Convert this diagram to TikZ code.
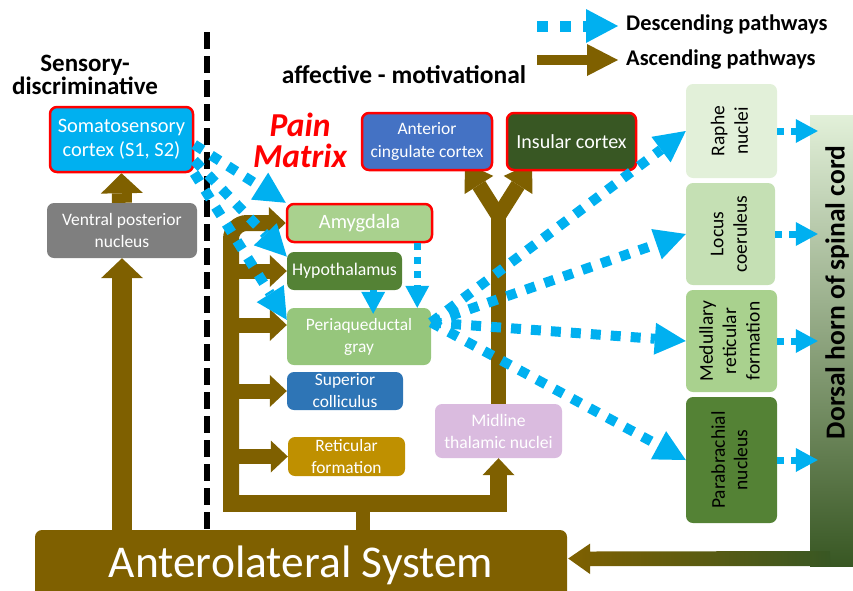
\documentclass[tikz,border=0pt]{standalone}
\usepackage{fontspec}
\setmainfont{Carlito}
\usepackage{graphicx}
\usetikzlibrary{arrows.meta,calc,backgrounds}
\definecolor{cyanA}{HTML}{00B0F0}
\definecolor{brownA}{HTML}{7F6000}
\definecolor{accC}{HTML}{4472C4}
\definecolor{insC}{HTML}{385723}
\definecolor{amyC}{HTML}{A9D18E}
\definecolor{hypC}{HTML}{548235}
\definecolor{pagC}{HTML}{96C67C}
\definecolor{supC}{HTML}{2E75B6}
\definecolor{retC}{HTML}{BF9000}
\definecolor{mtnC}{HTML}{DABBDF}
\definecolor{vpnC}{HTML}{7F7F7F}
\definecolor{raC}{HTML}{E2F0D9}
\definecolor{lcC}{HTML}{C5E0B4}
\definecolor{dhTop}{HTML}{E2F0D9}
\definecolor{dhMid}{HTML}{A9D18E}
\definecolor{dhBot}{HTML}{385723}
\newcommand\fsz[2]{\fontsize{#1}{#2}\selectfont}
\newcommand\rot[1]{\rotatebox{90}{\begin{tabular}{@{}c@{}}#1\end{tabular}}}
\begin{document}
\begin{tikzpicture}[x=1pt,y=-1pt,
  box/.style={rounded corners=7pt, align=center, text=white, inner sep=1pt},
  redb/.style={draw=red, line width=2.5pt},
  desc/.style={draw=cyanA, line width=10pt, dash pattern=on 10pt off 10pt, -{Triangle[width=32pt,length=31pt,line width=0pt]}},
  descs/.style={draw=cyanA, line width=7pt, dash pattern=on 7pt off 7pt, -{Triangle[width=24pt,length=22pt,line width=0pt]}},
  legd/.style={draw=cyanA, line width=11pt, dash pattern=on 11pt off 12pt, -{Triangle[width=34pt,length=32pt,line width=0pt]}},
  lega/.style={draw=brownA, line width=10pt, -{Triangle[width=32pt,length=31pt,line width=0pt]}},
  asc/.style={draw=brownA, line width=15pt, -{Triangle[width=32pt,length=17pt,line width=0pt]}},
  ascy/.style={draw=brownA, line width=15pt, -{Triangle[width=34pt,length=26pt,line width=0pt]}},
  ascw/.style={draw=brownA, line width=20pt, -{Triangle[width=42pt,length=20pt,line width=0pt]}},
  plainb/.style={draw=brownA, line width=15pt},
  ttl/.style={font=\bfseries\fsz{25}{23.5}, align=center, inner sep=0pt}
]
\useasboundingbox (0,0) rectangle (853,590);
\clip (0,0) rectangle (853,590);

% ---------- titles and legend
\node[ttl] (sd) at (85,75) {Sensory-\\discriminative};
\node[font=\bfseries\fsz{25.5}{30}, inner sep=0pt] (am) at (404,75) {affective - motivational};
\node[font=\bfseries\itshape\fsz{33.5}{31}, text=red, align=center, inner sep=0pt] (pm) at (300,140) {Pain\\Matrix};
\node[anchor=west, inner sep=0pt, font=\bfseries\fsz{22.4}{26}] (ld) at (626,25) {Descending pathways};
\node[anchor=west, inner sep=0pt, font=\bfseries\fsz{22.4}{26}] (la) at (626,60) {Ascending pathways};
\coordinate (ld0) at (537,26);
\coordinate (la0) at (537,60);
\draw[legd, shorten >=8pt] (ld0) -- (ld0 -| ld.west);
\draw[lega, shorten >=8pt] (la0) -- (la0 -| la.west);

% ---------- nodes
\node[box, redb, fill=cyanA, minimum width=143pt, minimum height=65pt, font=\fsz{20.4}{24}] (sc) at (121.5,139.5) {Somatosensory\\cortex (S1, S2)};
\node[box, fill=vpnC, minimum width=150pt, minimum height=55pt, font=\fsz{17.5}{21.5}] (vpn) at (122,230.5) {Ventral posterior\\nucleus};
\node[box, redb, fill=accC, minimum width=130pt, minimum height=57pt, font=\fsz{17.5}{23}] (acc) at (427,141.5) {Anterior\\cingulate cortex};
\node[box, redb, fill=insC, minimum width=129pt, minimum height=57pt, font=\fsz{20}{24}] (ins) at (571.5,141.5) {Insular cortex};
\node[box, redb, fill=amyC, minimum width=145pt, minimum height=38pt, font=\fsz{20.4}{24}] (amy) at (359.5,223) {Amygdala};
\node[box, fill=hypC, minimum width=115pt, minimum height=38pt, font=\fsz{17.8}{21}] (hyp) at (344.5,271) {Hypothalamus};
\node[box, fill=pagC, minimum width=144pt, minimum height=57pt, font=\fsz{17.4}{22}] (pag) at (359,336.5) {Periaqueductal\\gray};
\node[box, fill=supC, minimum width=116pt, minimum height=38pt, font=\fsz{17.4}{22}] (supc) at (345,391) {Superior\\colliculus};
\node[box, fill=retC, minimum width=117pt, minimum height=39pt, font=\fsz{17.4}{22}] (retf) at (346.5,456.5) {Reticular\\formation};
\node[box, fill=mtnC, minimum width=127pt, minimum height=54pt, font=\fsz{17.6}{22}] (mtn) at (498.5,431) {Midline\\thalamic nuclei};
\node[box, fill=raC, text=black, minimum width=91pt, minimum height=94pt, font=\fsz{19.5}{23.4}] (raphe) at (731.5,131) {\rot{Raphe\\nuclei}};
\node[box, fill=lcC, text=black, minimum width=89pt, minimum height=102pt, font=\fsz{19.5}{23.4}] (lc) at (730.5,234) {\rot{Locus\\coeruleus}};
\node[box, fill=amyC, text=black, minimum width=91pt, minimum height=102pt, font=\fsz{19.5}{23.4}] (mrf) at (731.5,341) {\rot{Medullary\\reticular\\formation}};
\node[box, fill=hypC, text=black, minimum width=91pt, minimum height=126pt, font=\fsz{19.5}{22.5}] (pbn) at (731.5,460) {\rot{Parabrachial\\nucleus}};
\node[inner sep=0pt, minimum width=43pt, minimum height=451pt, top color=dhTop, middle color=dhMid, bottom color=dhBot] (dh) at (831.5,340.5) {};
\node[rotate=90, inner sep=0pt, font=\bfseries\fsz{27.5}{32}] (dht) at (837,292.5) {Dorsal horn of spinal cord};
\node[box, fill=brownA, minimum width=532pt, minimum height=70pt, font=\fsz{45.5}{52}] (als) at (301,565) {Anterolateral System};

% ---------- dorsal horn to anterolateral system
\shade[left color=brownA, right color=dhBot]
  ($(als.east)+(1,-6.5)$) -- ++(22,-15) -- ++(0,8) -- (830,551) -- (830,566)
  -- (590,566) -- ++(0,8) -- cycle;

% ---------- ascending pathways (behind the boxes)
\begin{scope}[on background layer]
  \draw[line width=5.5pt, dash pattern=on 17pt off 7pt] (207,32) -- (207,530);
  \draw[ascw] (vpn.south |- als.north) -- (vpn.south);
  \draw[ascw] (vpn.north) -- (sc.south);
  \coordinate (bus) at (231,511);
  \coordinate (busb) at (223,503.5);
  \coordinate (pp) at (231,325);
  \draw[asc, line width=16pt, rounded corners=16pt] (bus) -- (bus |- amy.west) -- (amy.west);
  \draw[asc, line width=17pt] (busb) -- (busb -| mtn.south) -- (mtn.south);
  \draw[asc] (bus |- hyp.west) -- (hyp.west);
  \draw[asc] (pp) -- (pp -| pag.west);
  \draw[asc] (bus |- supc.west) -- (supc.west);
  \draw[asc] (bus |- retf.west) -- (retf.west);
  \coordinate (ab) at ($(als.north)+(62,0)$);
  \draw[plainb, line width=14pt] (ab) -- (ab |- busb);
  \coordinate (yj) at (498.5,216);
  \draw[plainb] (mtn.north) -- (yj);
  \draw[ascy] (yj) -- (465,163);
  \draw[ascy] (yj) -- (532,163);
\end{scope}

% ---------- descending pathways
\draw[desc] (sc.-4) -- (amy.north west);
\draw[desc] (sc.-16) -- (hyp.166);
\draw[desc] (sc.south east) -- (pag.167);
\coordinate (a1) at ($(amy.south east)+(-16,0)$);
\coordinate (h1) at ($(hyp.south east)+(-29,0)$);
\draw[descs] (a1) -- (a1 |- pag.north);
\draw[descs, shorten >=-6pt] (h1) -- (h1 |- pag.north);
\draw[desc] (pag.11) -- (raphe.west);
\draw[desc] (pag.11) -- (lc.west);
\draw[desc] (pag.11) -- (mrf.west);
\draw[desc] (pag.11) -- (pbn.west);
\draw[descs, shorten >=-8pt] (raphe.east) -- (raphe.east -| dh.west);
\draw[descs, shorten >=-8pt] (lc.east) -- (lc.east -| dh.west);
\draw[descs, shorten >=-8pt] (mrf.east) -- (mrf.east -| dh.west);
\draw[descs, shorten >=-8pt] (pbn.east) -- (pbn.east -| dh.west);
\end{tikzpicture}
\end{document}
